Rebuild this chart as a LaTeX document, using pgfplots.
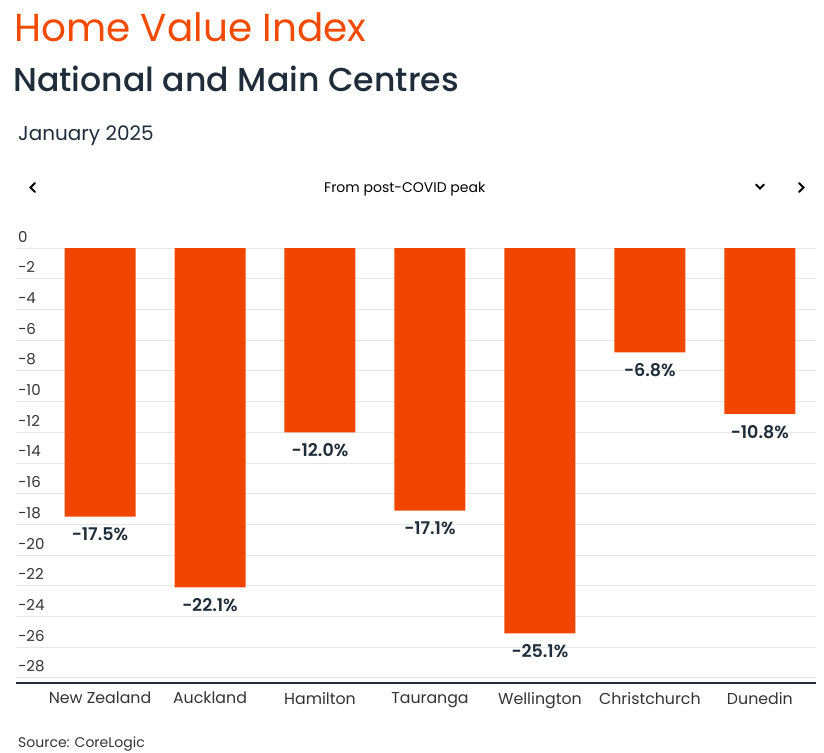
\documentclass[border=0pt]{standalone}
\usepackage{fontspec}
\setmainfont{Poppins}
\newfontfamily\poppinsmed{Poppins Medium}
\newfontfamily\poppinssemi{Poppins SemiBold}
\usepackage{pgfplots}
\pgfplotsset{compat=1.18}
\definecolor{barorange}{HTML}{F04600}
\definecolor{titleorange}{HTML}{F24A00}
\definecolor{darktext}{HTML}{1F2D3A}
\definecolor{gridgray}{HTML}{E6E6E6}
\definecolor{ticktext}{HTML}{333333}
\begin{document}
\begin{tikzpicture}[x=1pt,y=1pt]
\path[use as bounding box] (0pt,0pt) rectangle (824pt,-752pt);
\node[anchor=base west, inner sep=0, text=titleorange, font=\fontsize{39}{44}\selectfont] at (14pt,-42pt) {Home Value Index};
\node[anchor=base west, inner sep=0, text=darktext, font=\poppinsmed\fontsize{33.1}{38}\selectfont] at (13pt,-92pt) {National and Main Centres};
\node[anchor=base west, inner sep=0, text=darktext, font=\fontsize{20}{24}\selectfont] at (18pt,-140pt) {January 2025};
\node[anchor=base west, inner sep=0, text=black, font=\fontsize{14}{17}\selectfont] at (324pt,-192pt) {From post-COVID peak};
\draw[black, line width=1.8pt, line cap=round, line join=miter] (35pt,-183pt) -- (30.5pt,-187.5pt) -- (35pt,-192pt);
\draw[black, line width=1.8pt, line cap=round, line join=miter] (799pt,-183pt) -- (803.5pt,-187.5pt) -- (799pt,-192pt);
\draw[black, line width=1.8pt, line cap=round, line join=miter] (756pt,-184.5pt) -- (760pt,-188.5pt) -- (764pt,-184.5pt);
\node[anchor=base west, inner sep=0, text=ticktext, font=\fontsize{14}{17}\selectfont] at (18pt,-747pt) {Source: CoreLogic};
\begin{axis}[
  at={(16pt,-683pt)}, anchor=south west,
  scale only axis, width=800pt, height=435pt,
  xmin=-0.764, xmax=6.51, ymin=-28.33, ymax=0,
  axis line style={draw=none},
  major tick length=0pt,
  ymajorgrids, grid style={gridgray, line width=0.9pt},
  ytick={0,-2,-4,-6,-8,-10,-12,-14,-16,-18,-20,-22,-24,-26,-28},
  yticklabels={0,−2,−4,−6,−8,−10,−12,−14,−16,−18,−20,−22,−24,−26,−28},
  xtick={0,1,2,3,4,5,6},
  xticklabels={New Zealand,Auckland,Hamilton,Tauranga,Wellington,Christchurch,Dunedin},
  yticklabel style={anchor=base west, xshift=2pt, yshift=6pt, inner sep=0pt, font=\fontsize{15}{18}\selectfont, text=ticktext},
  xticklabel style={anchor=north, yshift=-9pt, inner sep=0pt, font=\fontsize{15.8}{18}\selectfont, text=ticktext},
  clip=false,
  ybar, bar width=71pt, bar shift=0pt,
  nodes near coords, point meta=explicit symbolic,
  nodes near coords align={anchor=north},
  every node near coord/.append style={anchor=north, yshift=-11pt, inner sep=0pt, text=darktext, font=\poppinssemi\fontsize{17.5}{20}\selectfont},
]
\addplot[fill=barorange, draw=none] coordinates {
  (0,-17.5) [−17.5\%]
  (1,-22.1) [−22.1\%]
  (2,-12.0) [−12.0\%]
  (3,-17.1) [−17.1\%]
  (4,-25.1) [−25.1\%]
  (5,-6.8) [−6.8\%]
  (6,-10.8) [−10.8\%]
};
\draw[darktext, line width=2pt] (rel axis cs:0,0) -- (rel axis cs:1,0);
\end{axis}
\end{tikzpicture}
\end{document}
